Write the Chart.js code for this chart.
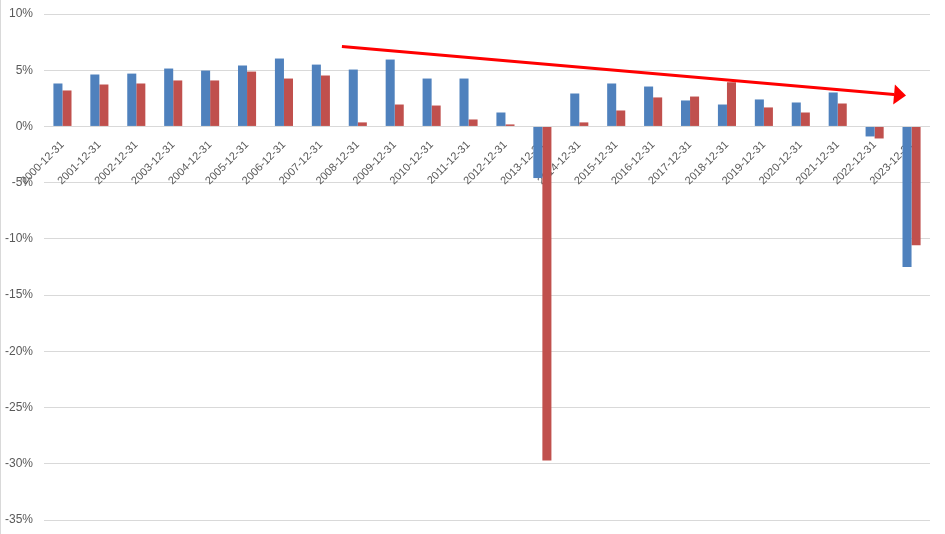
<!DOCTYPE html>
<html>
<head>
<meta charset="utf-8">
<script src="https://cdn.jsdelivr.net/npm/chart.js@4"></script>
<style>
	html, body { margin: 0; padding: 0; background: #fff; }
	#wrap { width: 945px; height: 534px; }
</style>
</head>
<body>
<div id="wrap"><canvas id="c" width="945" height="534"></canvas></div>
<script>
const labels = [
	'2000-12-31', '2001-12-31', '2002-12-31', '2003-12-31', '2004-12-31', '2005-12-31',
	'2006-12-31', '2007-12-31', '2008-12-31', '2009-12-31', '2010-12-31', '2011-12-31',
	'2012-12-31', '2013-12-31', '2014-12-31', '2015-12-31', '2016-12-31', '2017-12-31',
	'2018-12-31', '2019-12-31', '2020-12-31', '2021-12-31', '2022-12-31', '2023-12-31',
];
// values in %
const blueValues = [
	3.82, 4.62, 4.70, 5.15, 4.97, 5.42, 6.04, 5.50, 5.06, 5.95, 4.26, 4.26,
	1.24, -4.59, 2.93, 3.82, 3.55, 2.31, 1.95, 2.40, 2.13, 3.02, -0.89, -12.50,
];
const redValues = [
	3.20, 3.73, 3.82, 4.09, 4.09, 4.88, 4.26, 4.53, 0.36, 1.95, 1.86, 0.62,
	0.18, -29.70, 0.36, 1.42, 2.58, 2.66, 3.93, 1.69, 1.24, 2.04, -1.07, -10.57,
];
const yTicks = [10, 5, 0, -5, -10, -15, -20, -25, -30, -35];
// trend arrow, in category index / value units
const arrowFrom = {x: 7.57, y: 7.1};
const arrowTo = {x: 22.85, y: 2.75};

const frame = {
	id: 'frame',
	beforeDraw: chart => {
		const ctx = chart.ctx;
		ctx.save();
		ctx.strokeStyle = '#d9d9d9';
		ctx.lineWidth = 1;
		ctx.beginPath();
		ctx.moveTo(0.5, 0);
		ctx.lineTo(0.5, chart.height);
		ctx.stroke();
		ctx.restore();
	}
};

const arrow = {
	id: 'arrow',
	afterDatasetsDraw: chart => {
		const {ctx, scales: {x, y}} = chart;
		const x1 = x.getPixelForValue(arrowFrom.x), y1 = y.getPixelForValue(arrowFrom.y);
		const x2 = x.getPixelForValue(arrowTo.x), y2 = y.getPixelForValue(arrowTo.y);
		const a = Math.atan2(y2 - y1, x2 - x1);
		const head = 12, half = 10;
		const bx = x2 - head * Math.cos(a), by = y2 - head * Math.sin(a);
		ctx.save();
		ctx.strokeStyle = '#ff0000';
		ctx.fillStyle = '#ff0000';
		ctx.lineWidth = 3;
		ctx.beginPath();
		ctx.moveTo(x1, y1);
		ctx.lineTo(bx, by);
		ctx.stroke();
		ctx.beginPath();
		ctx.moveTo(x2, y2);
		ctx.lineTo(bx + half * Math.sin(a), by - half * Math.cos(a));
		ctx.lineTo(bx - half * Math.sin(a), by + half * Math.cos(a));
		ctx.closePath();
		ctx.fill();
		ctx.restore();
	}
};

Chart.defaults.font.family = 'Liberation Sans, Arial, sans-serif';
Chart.defaults.color = '#595959';

new Chart(document.getElementById('c'), {
	type: 'bar',
	data: {
		labels: labels,
		datasets: [
			{data: blueValues, backgroundColor: '#4f81bd', categoryPercentage: 0.49, barPercentage: 1},
			{data: redValues, backgroundColor: '#c0504d', categoryPercentage: 0.49, barPercentage: 1},
		],
	},
	plugins: [frame, arrow],
	options: {
		responsive: false,
		animation: false,
		layout: {padding: {top: 14, bottom: 14, right: 15, left: 0}},
		plugins: {legend: {display: false}, tooltip: {enabled: false}},
		scales: {
			x: {
				position: {y: 0},
				z: 1,
				afterFit: s => { s.height = 0; s.paddingLeft = 0; s.paddingRight = 0; },
				grid: {display: false},
				border: {display: false},
				ticks: {
					autoSkip: false,
					minRotation: 45,
					maxRotation: 45,
					padding: 4,
					font: {size: 11},
				},
			},
			y: {
				min: -35,
				max: 10,
				afterFit: s => { s.width = 44; s.paddingTop = 0; s.paddingBottom = 0; },
				afterBuildTicks: s => { s.ticks = yTicks.map(v => ({value: v})); },
				grid: {color: '#d9d9d9', drawTicks: false},
				border: {display: false},
				ticks: {
					padding: 11,
					font: {size: 12},
					callback: v => v + '%',
				},
			},
		},
	},
});
</script>
</body>
</html>
